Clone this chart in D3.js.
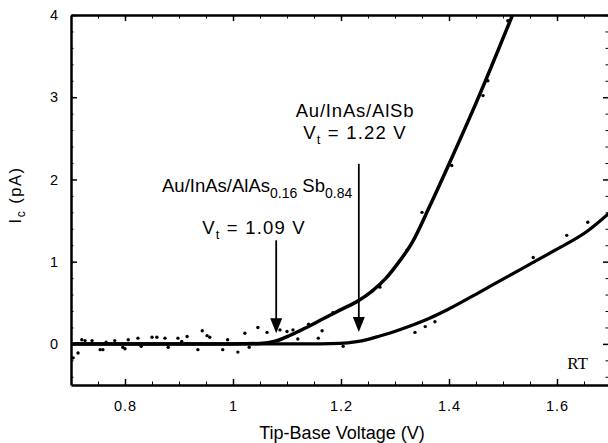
<!DOCTYPE html>
<html>
<head>
<meta charset="utf-8">
<script src="https://cdn.jsdelivr.net/npm/d3@7"></script>
<style>
  body { margin: 0; background: #fff; }
  svg { display: block; font-family: "Liberation Sans", Arial, Helvetica, sans-serif; }
  .axis path, .axis line { stroke: #000; }
  .axis text { font-size: 14.5px; fill: #000; letter-spacing: 1px; }
  .note { font-size: 18.5px; fill: #000; white-space: pre; }
</style>
</head>
<body>
<script>
// size of the svg and the plot box
var fullWidth = 608;
var fullHeight = 443;
var margin = {top: 15, right: -3, bottom: 58, left: 71};
var width = fullWidth - margin.left - margin.right;
var height = fullHeight - margin.top - margin.bottom;

// tick values and labels
var xMajor = [0.8, 1.0, 1.2, 1.4, 1.6];
var xTickLabels = ["0.8", "1", "1.2", "1.4", "1.6"];
var xMinor = [0.7, 0.75, 0.85, 0.9, 0.95, 1.05, 1.1, 1.15, 1.25, 1.3, 1.35,
              1.45, 1.5, 1.55, 1.65, 1.7];
var yMajor = [0, 1, 2, 3, 4];
var yTickLabels = ["0", "1", "2", "3", "4"];
var yMinor = [-0.4, -0.2, 0.2, 0.4, 0.6, 0.8, 1.2, 1.4, 1.6, 1.8, 2.2, 2.4,
              2.6, 2.8, 3.2, 3.4, 3.6, 3.8];

// fitted curve of Au/InAs/AlAs0.16Sb0.84 (Vt = 1.09 V)
var curveAV = [0.70, 1.00, 1.05, 1.08, 1.106, 1.133, 1.167, 1.198, 1.232,
               1.257, 1.282, 1.306, 1.332, 1.365, 1.398, 1.452, 1.517];
var curveAI = [0, 0, 0.005, 0.036, 0.105, 0.19, 0.305, 0.41, 0.525,
               0.64, 0.79, 0.985, 1.236, 1.685, 2.158, 2.958, 3.99];

// fitted curve of Au/InAs/AlSb (Vt = 1.22 V)
var curveBV = [0.70, 1.161, 1.198, 1.226, 1.25, 1.272, 1.302, 1.333, 1.365,
               1.396, 1.457, 1.50, 1.55, 1.60, 1.656, 1.70];
var curveBI = [0, 0, 0.006, 0.024, 0.055, 0.097, 0.158, 0.23, 0.315,
               0.412, 0.63, 0.788, 0.97, 1.152, 1.37, 1.61];

// measured points that stand off the fitted curves
var scatterV = [0.704, 0.713, 0.72, 0.726, 0.739, 0.754, 0.759, 0.781, 0.796,
                0.80, 0.806, 0.824, 0.85, 0.859, 0.874, 0.88, 0.898, 0.915,
                0.935, 0.943, 0.952, 0.957, 0.981, 1.009, 1.022, 1.046, 1.063,
                1.087, 1.10, 1.111, 1.165, 1.158, 1.204, 1.272, 1.259, 1.337,
                1.356, 1.374, 1.556, 1.618, 1.657, 1.272, 1.35, 1.322, 1.472,
                1.463, 1.405, 1.509, 0.765, 0.83, 0.905, 0.99, 1.03, 1.12,
                1.14, 1.185];
var scatterI = [-0.17, -0.11, 0.05, 0.04, 0.04, -0.07, -0.07, 0.04, -0.04,
                -0.06, 0.05, 0.07, 0.08, 0.08, 0.07, -0.04, 0.07, 0.09,
                -0.07, 0.16, 0.10, 0.08, -0.07, -0.10, 0.13, 0.20, 0.14,
                0.17, 0.15, 0.17, 0.16, 0.07, -0.03, 0.69, 0.65, 0.14,
                0.21, 0.27, 1.05, 1.32, 1.48, 0.72, 1.60, 1.14, 3.20,
                3.02, 2.17, 3.93, 0.02, -0.03, 0.03, 0.05, -0.04, 0.06,
                0.24, 0.38];

// threshold arrows: x position, start and tip in pA
var arrowV = [1.08, 1.233];
var arrowTop = [1.26, 2.19];
var arrowTip = [0.13, 0.145];

var svg = d3.select("body")
            .append("svg")
            .attr("width", fullWidth)
            .attr("height", fullHeight);

var xScale = d3.scaleLinear()
               .domain([0.7, 1.7])
               .range([margin.left, margin.left + width]);

var yScale = d3.scaleLinear()
               .domain([-0.5, 4])
               .range([margin.top + height, margin.top]);

// draw an axis with major (labelled) and minor ticks
function drawAxis(axisFn, scale, translate, major, labels, minor, majorLen, minorLen, pad) {
    svg.append("g")
       .attr("class", "axis")
       .attr("transform", translate)
       .call(axisFn(scale).tickValues(minor).tickSizeInner(-minorLen)
             .tickSizeOuter(0).tickFormat(""))
       .select(".domain").remove();

    var g = svg.append("g")
       .attr("class", "axis")
       .attr("transform", translate)
       .call(axisFn(scale).tickValues(major).tickSizeInner(-majorLen)
             .tickSizeOuter(0).tickPadding(pad)
             .tickFormat(function(d, i) { return labels ? labels[i] : ""; }));
    g.select(".domain").attr("stroke-width", 2.5);
    g.selectAll(".tick line").attr("stroke-width", 1.5);
    return g;
};

var x0 = margin.left;
var x1 = margin.left + width;
var y0 = margin.top + height;
var y1 = margin.top;

drawAxis(d3.axisBottom, xScale, "translate(0," + y0 + ")", xMajor, xTickLabels, xMinor, 6, 3.5, 16);
drawAxis(d3.axisTop, xScale, "translate(0," + y1 + ")", xMajor, null, xMinor, 6, 3.5, 3);
drawAxis(d3.axisLeft, yScale, "translate(" + x0 + ",0)", yMajor, yTickLabels, yMinor, 6, 2.5, 12);
drawAxis(d3.axisRight, yScale, "translate(" + x1 + ",0)", yMajor, null, yMinor, 8, 5.5, 3);

// axis titles
svg.append("text")
   .attr("class", "note")
   .attr("x", 342)
   .attr("y", 439)
   .attr("text-anchor", "middle")
   .style("font-size", "18px")
   .text("Tip-Base Voltage (V)");

var yTitle = svg.append("text")
   .attr("class", "note")
   .attr("transform", "translate(21,195) rotate(-90)")
   .attr("text-anchor", "middle")
   .style("font-size", "16.5px")
   .style("letter-spacing", "1.5px");
yTitle.append("tspan").text("I");
yTitle.append("tspan").attr("dy", 4).style("font-size", "12px").text("c");
yTitle.append("tspan").attr("dy", -4).text(" (pA)");

// fitted curves
var line = d3.line()
             .x(function(d) { return xScale(d[0]); })
             .y(function(d) { return yScale(d[1]); })
             .curve(d3.curveMonotoneX);

svg.append("path")
   .datum(d3.zip(curveBV, curveBI))
   .attr("d", line)
   .attr("fill", "none")
   .attr("stroke", "#000")
   .attr("stroke-width", 3.2);

svg.append("path")
   .datum(d3.zip(curveAV, curveAI))
   .attr("d", line)
   .attr("fill", "none")
   .attr("stroke", "#000")
   .attr("stroke-width", 3.5);

// scattered measurement points
svg.selectAll(".dot")
   .data(d3.zip(scatterV, scatterI))
   .enter()
   .append("circle")
   .attr("class", "dot")
   .attr("cx", function(d) { return xScale(d[0]); })
   .attr("cy", function(d) { return yScale(d[1]); })
   .attr("r", 1.7)
   .attr("fill", "#000");

// threshold arrows
for (let i = 0; i < arrowV.length; i++) {
    var ax = xScale(arrowV[i]);
    var tip = yScale(arrowTip[i]);
    svg.append("line")
       .attr("x1", ax).attr("x2", ax)
       .attr("y1", yScale(arrowTop[i])).attr("y2", tip - 10)
       .attr("stroke", "#000")
       .attr("stroke-width", 1.8);
    svg.append("path")
       .attr("d", "M" + (ax - 6) + "," + (tip - 15) + "L" + (ax + 6) + "," + (tip - 15) +
                  "L" + ax + "," + tip + "Z")
       .attr("fill", "#000");
};

// annotations
svg.append("text")
   .attr("class", "note")
   .attr("x", 355).attr("y", 117)
   .attr("text-anchor", "middle")
   .style("letter-spacing", "0.8px")
   .text("Au/InAs/AlSb");

function vtLabel(x, y, value) {
    var t = svg.append("text")
               .attr("class", "note")
               .attr("x", x).attr("y", y)
               .attr("text-anchor", "middle")
               .style("letter-spacing", "1.2px");
    t.append("tspan").text("V");
    t.append("tspan").attr("dy", 5).style("font-size", "13px").text("t");
    t.append("tspan").attr("dy", -5).text(" = " + value + " V");
};
vtLabel(355, 139, "1.22");
vtLabel(254, 234, "1.09");

var alas = svg.append("text")
              .attr("class", "note")
              .attr("x", 162).attr("y", 192);
alas.append("tspan").text("Au/InAs/AlAs");
alas.append("tspan").attr("dy", 6).style("font-size", "14px").text("0.16");
alas.append("tspan").attr("dy", -6).text(" Sb");
alas.append("tspan").attr("dy", 6).style("font-size", "14px").text("0.84");

svg.append("text")
   .attr("x", 588).attr("y", 369)
   .attr("text-anchor", "end")
   .style("font-family", "'Liberation Serif', 'Times New Roman', serif")
   .style("font-size", "17px")
   .text("RT");
</script>
</body>
</html>
